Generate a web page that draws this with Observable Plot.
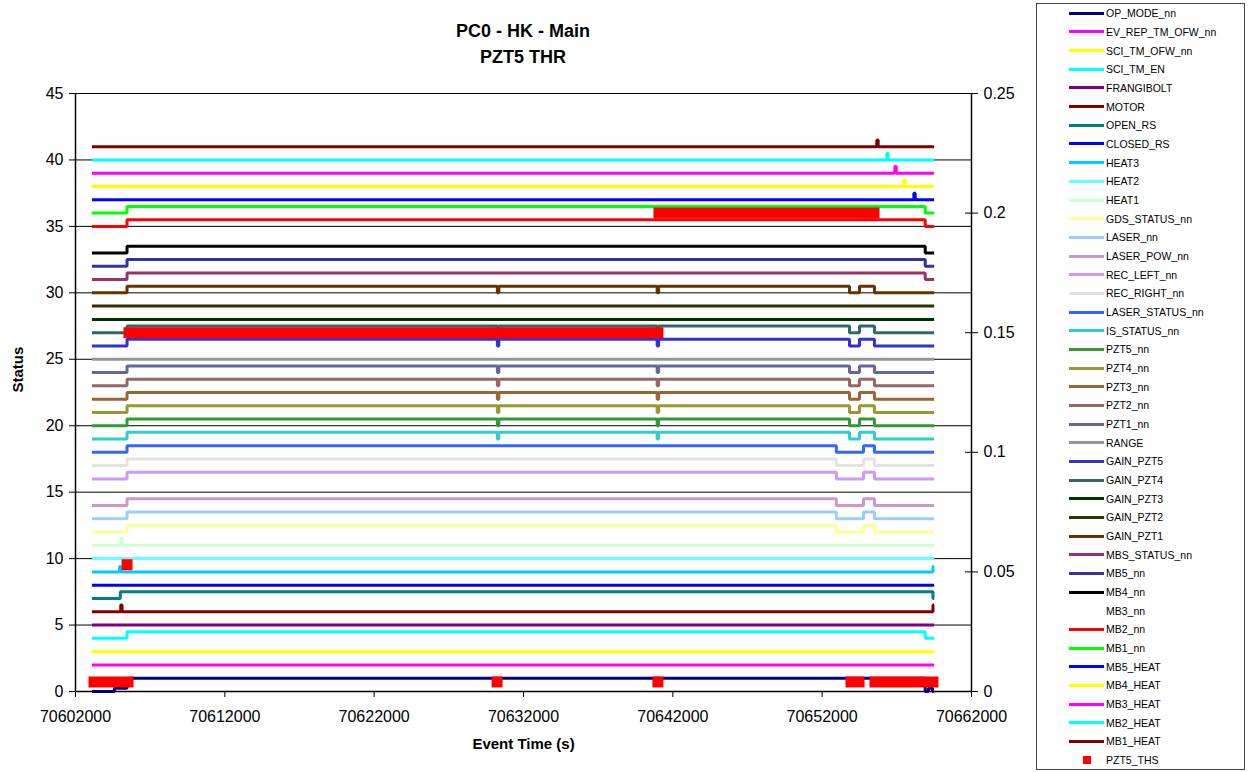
<!DOCTYPE html>
<html>
<head>
<meta charset="utf-8">
<script src="https://cdn.jsdelivr.net/npm/d3@7"></script>
<script src="https://cdn.jsdelivr.net/npm/@observablehq/plot@0.6"></script>
<style>
  body { margin: 0; background: #fff; font-family: "Liberation Sans", Arial, sans-serif; }
  #wrap { position: relative; width: 1249px; height: 772px; overflow: hidden; background: #fff; }
  #chart { position: absolute; left: 0; top: 0; }
  #title { position: absolute; left: 273px; width: 500px; top: 18px; text-align: center;
           font-weight: bold; font-size: 18px; line-height: 26px; color: #000; }
  #legend { position: absolute; left: 1036px; top: 3px; width: 209px; height: 767px;
            border: 1px solid #444; box-sizing: border-box; background: #fff; }
  .row { position: absolute; left: 0; width: 205px; height: 18px; }
  .sw { position: absolute; left: 32px; top: 7.5px; width: 35px; height: 3px; }
  .sq { position: absolute; left: 46px; top: 5px; width: 8px; height: 8px; background: #FF0000; }
  .lb { position: absolute; left: 69px; top: 0; line-height: 18px; font-size: 10.5px; color: #000; white-space: nowrap; }
</style>
</head>
<body>
<div id="wrap">
  <div id="chart"></div>
  <div id="title">PC0 - HK - Main<br>PZT5 THR</div>
  <div id="legend"></div>
</div>
<script>
// ---- axes ----
const X_TICKS = [70602000, 70612000, 70622000, 70632000, 70642000, 70652000, 70662000];
const Y_TICKS = [0, 5, 10, 15, 20, 25, 30, 35, 40, 45];
const Y2_TICKS = [0, 0.05, 0.1, 0.15, 0.2, 0.25];
const Y_MAX = 45, Y2_MAX = 0.25;

// ---- event times (s) ----
const T_FIRST = 70603100;       // first sample
const T_LAST = 70659500;        // last sample
const T_OP_PRE = 70604600;      // OP_MODE pre-step
const T_RS = 70605000;          // OPEN_RS switch
const T_ON = 70605450;          // status words switch on
const T_G1 = 70630250, T_G1_END = 70630350;   // first PZT glitch
const T_G2 = 70640950, T_G2_END = 70641050;   // second PZT glitch
const T_PZT_OFF = 70653830, T_PZT_ON = 70654500, T_PZT_END = 70655500;
const T_LAS_OFF = 70652950, T_LAS_ON = 70654770, T_LAS_END = 70655500;
const T_MB_OFF = 70658900;      // MB words drop
const T_END_EV = 70659420;      // last-sample events

// ---- series names and colours (legend order) ----
const NAMES = ["OP_MODE_nn", "EV_REP_TM_OFW_nn", "SCI_TM_OFW_nn", "SCI_TM_EN", "FRANGIBOLT", "MOTOR",
  "OPEN_RS", "CLOSED_RS", "HEAT3", "HEAT2", "HEAT1", "GDS_STATUS_nn", "LASER_nn", "LASER_POW_nn",
  "REC_LEFT_nn", "REC_RIGHT_nn", "LASER_STATUS_nn", "IS_STATUS_nn", "PZT5_nn", "PZT4_nn", "PZT3_nn",
  "PZT2_nn", "PZT1_nn", "RANGE", "GAIN_PZT5", "GAIN_PZT4", "GAIN_PZT3", "GAIN_PZT2", "GAIN_PZT1",
  "MBS_STATUS_nn", "MB5_nn", "MB4_nn", "MB3_nn", "MB2_nn", "MB1_nn", "MB5_HEAT", "MB4_HEAT",
  "MB3_HEAT", "MB2_HEAT", "MB1_HEAT", "PZT5_THS"];
const COLORS = ["#000080", "#FF00FF", "#FFFF00", "#00FFFF", "#800080", "#800000",
  "#008080", "#0000FF", "#00CCFF", "#66FFFF", "#CCFFCC", "#FFFF99", "#99CCFF", "#CC99CC",
  "#CC99FF", "#E3E3E3", "#3366FF", "#33CCCC", "#339933", "#999933", "#996633",
  "#996666", "#666699", "#969696", "#3333CC", "#336666", "#003300", "#333300", "#663300",
  "#993366", "#333399", "#000000", null, "#FF0000", "#00FF00", "#0000FF", "#FFFF00",
  "#FF00FF", "#00FFFF", "#800000", "#FF0000"];

// ---- status series: [time, value] step points ----
const OP_MODE_nn = [[T_FIRST, 0], [T_OP_PRE, 0.25], [T_ON, 1], [T_MB_OFF, 0], [70659120, 0.25], [70659390, 0], [T_LAST, 0]];
const EV_REP_TM_OFW_nn = [[T_FIRST, 2], [T_LAST, 2]];
const SCI_TM_OFW_nn = [[T_FIRST, 3], [T_LAST, 3]];
const SCI_TM_EN = [[T_FIRST, 4], [T_ON, 4.5], [T_MB_OFF, 4], [T_LAST, 4]];
const FRANGIBOLT = [[T_FIRST, 5], [T_LAST, 5]];
const MOTOR = [[T_FIRST, 6], [70605030, 6.5], [70605120, 6], [T_END_EV, 6.5], [T_LAST, 6.5]];
const OPEN_RS = [[T_FIRST, 7], [T_RS, 7.5], [T_END_EV, 7], [T_LAST, 7]];
const CLOSED_RS = [[T_FIRST, 8], [T_LAST, 8]];
const HEAT3 = [[T_FIRST, 9], [70604950, 9.4], [70605040, 9], [T_END_EV, 9.4], [T_LAST, 9.4]];
const HEAT2 = [[T_FIRST, 10], [T_LAST, 10]];
const HEAT1 = [[T_FIRST, 11], [70605030, 11.5], [70605120, 11], [T_LAST, 11]];
const GDS_STATUS_nn = [[T_FIRST, 12], [T_ON, 12.5], [T_LAS_OFF, 12], [T_LAS_ON, 12.5], [T_LAS_END, 12], [T_LAST, 12]];
const LASER_nn = [[T_FIRST, 13], [T_ON, 13.5], [T_LAS_OFF, 13], [T_LAS_ON, 13.5], [T_LAS_END, 13], [T_LAST, 13]];
const LASER_POW_nn = [[T_FIRST, 14], [T_ON, 14.5], [T_LAS_OFF, 14], [T_LAS_ON, 14.5], [T_LAS_END, 14], [T_LAST, 14]];
const REC_LEFT_nn = [[T_FIRST, 16], [T_ON, 16.5], [T_LAS_OFF, 16], [T_LAS_ON, 16.5], [T_LAS_END, 16], [T_LAST, 16]];
const REC_RIGHT_nn = [[T_FIRST, 17], [T_ON, 17.5], [T_LAS_OFF, 17], [T_LAS_ON, 17.5], [T_LAS_END, 17], [T_LAST, 17]];
const LASER_STATUS_nn = [[T_FIRST, 18], [T_ON, 18.5], [T_LAS_OFF, 18], [T_LAS_ON, 18.5], [T_LAS_END, 18], [T_LAST, 18]];
const IS_STATUS_nn = [[T_FIRST, 19], [T_ON, 19.5], [T_G1, 19], [T_G1_END, 19.5], [T_G2, 19], [T_G2_END, 19.5], [T_PZT_OFF, 19], [T_PZT_ON, 19.5], [T_PZT_END, 19], [T_LAST, 19]];
const PZT5_nn = [[T_FIRST, 20], [T_ON, 20.5], [T_G1, 20], [T_G1_END, 20.5], [T_G2, 20], [T_G2_END, 20.5], [T_PZT_OFF, 20], [T_PZT_ON, 20.5], [T_PZT_END, 20], [T_LAST, 20]];
const PZT4_nn = [[T_FIRST, 21], [T_ON, 21.5], [T_G1, 21], [T_G1_END, 21.5], [T_G2, 21], [T_G2_END, 21.5], [T_PZT_OFF, 21], [T_PZT_ON, 21.5], [T_PZT_END, 21], [T_LAST, 21]];
const PZT3_nn = [[T_FIRST, 22], [T_ON, 22.5], [T_G1, 22], [T_G1_END, 22.5], [T_G2, 22], [T_G2_END, 22.5], [T_PZT_OFF, 22], [T_PZT_ON, 22.5], [T_PZT_END, 22], [T_LAST, 22]];
const PZT2_nn = [[T_FIRST, 23], [T_ON, 23.5], [T_G1, 23], [T_G1_END, 23.5], [T_G2, 23], [T_G2_END, 23.5], [T_PZT_OFF, 23], [T_PZT_ON, 23.5], [T_PZT_END, 23], [T_LAST, 23]];
const PZT1_nn = [[T_FIRST, 24], [T_ON, 24.5], [T_G1, 24], [T_G1_END, 24.5], [T_G2, 24], [T_G2_END, 24.5], [T_PZT_OFF, 24], [T_PZT_ON, 24.5], [T_PZT_END, 24], [T_LAST, 24]];
const RANGE = [[T_FIRST, 25], [T_LAST, 25]];
const GAIN_PZT5 = [[T_FIRST, 26], [T_ON, 26.5], [T_G1, 26], [T_G1_END, 26.5], [T_G2, 26], [T_G2_END, 26.5], [T_PZT_OFF, 26], [T_PZT_ON, 26.5], [T_PZT_END, 26], [T_LAST, 26]];
const GAIN_PZT4 = [[T_FIRST, 27], [T_ON, 27.5], [T_G1, 27], [T_G1_END, 27.5], [T_G2, 27], [T_G2_END, 27.5], [T_PZT_OFF, 27], [T_PZT_ON, 27.5], [T_PZT_END, 27], [T_LAST, 27]];
const GAIN_PZT3 = [[T_FIRST, 28], [T_LAST, 28]];
const GAIN_PZT2 = [[T_FIRST, 29], [T_LAST, 29]];
const GAIN_PZT1 = [[T_FIRST, 30], [T_ON, 30.5], [T_G1, 30], [T_G1_END, 30.5], [T_G2, 30], [T_G2_END, 30.5], [T_PZT_OFF, 30], [T_PZT_ON, 30.5], [T_PZT_END, 30], [T_LAST, 30]];
const MBS_STATUS_nn = [[T_FIRST, 31], [T_ON, 31.5], [T_MB_OFF, 31], [T_LAST, 31]];
const MB5_nn = [[T_FIRST, 32], [T_ON, 32.5], [T_MB_OFF, 32], [T_LAST, 32]];
const MB4_nn = [[T_FIRST, 33], [T_ON, 33.5], [T_MB_OFF, 33], [T_LAST, 33]];
const MB3_nn = [];
const MB2_nn = [[T_FIRST, 35], [T_ON, 35.5], [T_MB_OFF, 35], [T_LAST, 35]];
const MB1_nn = [[T_FIRST, 36], [T_ON, 36.5], [T_MB_OFF, 36], [T_LAST, 36]];
const MB5_HEAT = [[T_FIRST, 37], [70658140, 37.5], [70658230, 37], [T_LAST, 37]];
const MB4_HEAT = [[T_FIRST, 38], [70657470, 38.5], [70657560, 38], [T_LAST, 38]];
const MB3_HEAT = [[T_FIRST, 39], [70656870, 39.5], [70656960, 39], [T_LAST, 39]];
const MB2_HEAT = [[T_FIRST, 40], [70656330, 40.5], [70656420, 40], [T_LAST, 40]];
const MB1_HEAT = [[T_FIRST, 41], [70655660, 41.5], [70655750, 41], [T_LAST, 41]];

// ---- PZT5_THS (right axis): runs of samples [from, to, value] and isolated samples [time, value] ----
const PZT5_THS_RUNS = [
  [70603240, 70605520, 0.004],
  [70605580, 70641000, 0.15],
  [70641070, 70655470, 0.2],
  [70653930, 70654470, 0.004],
  [70655540, 70659420, 0.004]
];
const PZT5_THS_POINTS = [[70605450, 0.053], [70630230, 0.004], [70641000, 0.004]];

const STATUS = [OP_MODE_nn, EV_REP_TM_OFW_nn, SCI_TM_OFW_nn, SCI_TM_EN, FRANGIBOLT, MOTOR,
  OPEN_RS, CLOSED_RS, HEAT3, HEAT2, HEAT1, GDS_STATUS_nn, LASER_nn, LASER_POW_nn,
  REC_LEFT_nn, REC_RIGHT_nn, LASER_STATUS_nn, IS_STATUS_nn, PZT5_nn, PZT4_nn, PZT3_nn,
  PZT2_nn, PZT1_nn, RANGE, GAIN_PZT5, GAIN_PZT4, GAIN_PZT3, GAIN_PZT2, GAIN_PZT1,
  MBS_STATUS_nn, MB5_nn, MB4_nn, MB3_nn, MB2_nn, MB1_nn, MB5_HEAT, MB4_HEAT,
  MB3_HEAT, MB2_HEAT, MB1_HEAT];

// secondary axis values are placed on the primary scale through this ratio
const R = Y_MAX / Y2_MAX;
const fmt2 = d => String(+(d / R).toFixed(4));

const lineMarks = STATUS.map((pts, i) => pts.length
  ? Plot.line(pts, {x: d => d[0], y: d => d[1], stroke: COLORS[i], strokeWidth: 3,
      curve: "step-after", strokeLinejoin: "miter", strokeLinecap: "butt"})
  : null).filter(Boolean);

const chart = Plot.plot({
  width: 1030,
  height: 772,
  marginLeft: 75,
  marginRight: 59,
  marginTop: 93,
  marginBottom: 81,
  x: {domain: [X_TICKS[0], X_TICKS[X_TICKS.length - 1]]},
  y: {domain: [0, Y_MAX]},
  style: {fontFamily: "'Liberation Sans', Arial, sans-serif", fontSize: "16px", color: "#000", background: "transparent", overflow: "visible"},
  marks: [
    Plot.ruleY(Y_TICKS, {stroke: "#000", strokeWidth: 1}),
    Plot.ruleX([X_TICKS[0], X_TICKS[X_TICKS.length - 1]], {stroke: "#000", strokeWidth: 1.5}),
    Plot.ruleY([0], {stroke: "#000", strokeWidth: 1.5}),
    Plot.axisY(Y_TICKS, {anchor: "left", tickSize: 6, tickPadding: 6, label: null, stroke: "#000"}),
    Plot.axisY(Y2_TICKS.map(v => v * R), {anchor: "right", tickSize: 6, tickPadding: 6, label: null, tickFormat: fmt2, stroke: "#000"}),
    Plot.tickY(Y2_TICKS.map(v => v * R), {y: d => d, insetLeft: 890, stroke: "#000"}),
    Plot.axisX(X_TICKS, {anchor: "bottom", tickSize: 6, tickPadding: 13, label: null, tickFormat: d3.format("d"), stroke: "#000"}),
    Plot.text(["Status"], {frameAnchor: "left", dx: -57, rotate: -90, fontWeight: "bold", fontSize: 15, text: d => d}),
    Plot.text(["Event Time (s)"], {frameAnchor: "bottom", dy: 57, fontWeight: "bold", fontSize: 15, text: d => d}),
    ...lineMarks,
    Plot.link(PZT5_THS_RUNS, {x1: d => d[0], x2: d => d[1], y1: d => d[2] * R, y2: d => d[2] * R,
      stroke: "#FF0000", strokeWidth: 11, strokeLinecap: "square"}),
    Plot.dot(PZT5_THS_POINTS, {x: d => d[0], y: d => d[1] * R, symbol: "square", r: 6.2, fill: "#FF0000", stroke: "none"})
  ]
});
document.getElementById("chart").appendChild(chart);

// ---- legend ----
const legend = document.getElementById("legend");
NAMES.forEach((name, i) => {
  const row = document.createElement("div");
  row.className = "row";
  row.style.top = (13.3 + 18.67 * i - 3 - 1 - 9) + "px";
  if (name === "PZT5_THS") {
    const sq = document.createElement("div");
    sq.className = "sq";
    row.appendChild(sq);
  } else if (COLORS[i]) {
    const sw = document.createElement("div");
    sw.className = "sw";
    sw.style.background = COLORS[i];
    row.appendChild(sw);
  }
  const lb = document.createElement("div");
  lb.className = "lb";
  lb.textContent = name;
  row.appendChild(lb);
  legend.appendChild(row);
});
</script>
</body>
</html>
